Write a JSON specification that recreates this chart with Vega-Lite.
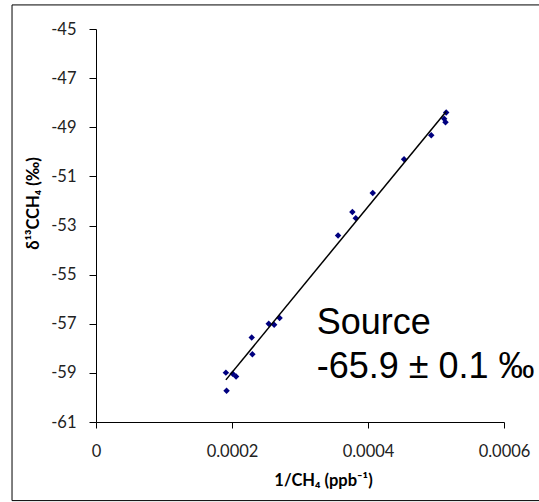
{
  "$schema": "https://vega.github.io/schema/vega-lite/v6.json",
  "width": 408,
  "height": 393,
  "autosize": "none",
  "padding": {"left": 96, "top": 29, "right": 35, "bottom": 80},
  "background": "white",
  "config": {
    "view": {"stroke": null},
    "axis": {
      "grid": false,
      "domainColor": "#000000",
      "tickColor": "#000000",
      "labelFont": "Lato",
      "labelFontSize": 16.5,
      "labelColor": "#222222",
      "titleFont": "Lato",
      "titleFontSize": 16.5,
      "titleFontWeight": "bold",
      "titleColor": "#000000"
    }
  },
  "layer": [
    {
      "data": {"values": [{"a": 1}]},
      "mark": {"type": "rect", "fill": null, "stroke": "#000000", "strokeWidth": 1, "clip": false},
      "encoding": {
        "x": {"datum": -0.0001235, "type": "quantitative", "scale": {"domain": [0, 0.0006]}},
        "x2": {"datum": 0.00068},
        "y": {"datum": -44.02, "type": "quantitative", "scale": {"domain": [-61, -45]}},
        "y2": {"datum": -64.2}
      }
    },
    {
      "data": {
        "values": [
          {"inv_ch4": 0.000192, "d13c": -59.73},
          {"inv_ch4": 0.000191, "d13c": -58.99},
          {"inv_ch4": 0.000201, "d13c": -59.04},
          {"inv_ch4": 0.000206, "d13c": -59.15},
          {"inv_ch4": 0.00023, "d13c": -58.24},
          {"inv_ch4": 0.000229, "d13c": -57.56},
          {"inv_ch4": 0.000254, "d13c": -57.0},
          {"inv_ch4": 0.000262, "d13c": -57.04},
          {"inv_ch4": 0.00027, "d13c": -56.77},
          {"inv_ch4": 0.000356, "d13c": -53.41},
          {"inv_ch4": 0.000377, "d13c": -52.45},
          {"inv_ch4": 0.000382, "d13c": -52.7},
          {"inv_ch4": 0.000407, "d13c": -51.68},
          {"inv_ch4": 0.000453, "d13c": -50.3},
          {"inv_ch4": 0.000493, "d13c": -49.33},
          {"inv_ch4": 0.000515, "d13c": -48.4},
          {"inv_ch4": 0.000512, "d13c": -48.65},
          {"inv_ch4": 0.000514, "d13c": -48.8}
        ]
      },
      "layer": [
        {
          "mark": {"type": "point", "shape": "diamond", "filled": true, "color": "#000080", "size": 42, "opacity": 1},
          "encoding": {
            "x": {
              "field": "inv_ch4",
              "type": "quantitative",
              "scale": {"domain": [0, 0.0006], "nice": false, "zero": false},
              "axis": {
                "values": [0, 0.0002, 0.0004, 0.0006],
                "labelExpr": "toString(datum.value)",
                "tickSize": 6,
                "labelPadding": 15,
                "labelFlush": false,
                "title": "1/CH₄ (ppb⁻¹)",
                "titleX": 227,
                "titlePadding": 13
              }
            },
            "y": {
              "field": "d13c",
              "type": "quantitative",
              "scale": {"domain": [-61, -45], "nice": false, "zero": false},
              "axis": {
                "values": [-61, -59, -57, -55, -53, -51, -49, -47, -45],
                "labelExpr": "toString(datum.value)",
                "tickSize": 7,
                "labelPadding": 13,
                "labelFlush": false,
                "title": "δ¹³CCH₄ (‰)",
                "titleY": 174,
                "titlePadding": 9
              }
            }
          }
        },
        {
          "transform": [{"regression": "d13c", "on": "inv_ch4"}],
          "mark": {"type": "line", "color": "#000000", "strokeWidth": 1.5},
          "encoding": {
            "x": {"field": "inv_ch4", "type": "quantitative"},
            "y": {"field": "d13c", "type": "quantitative"}
          }
        }
      ]
    },
    {
      "data": {"values": [{"inv_ch4": 0.0003246, "d13c": -57.42, "label": "Source\n-65.9 ± 0.1 ‰"}]},
      "mark": {
        "type": "text",
        "font": "Liberation Sans",
        "fontSize": 36,
        "lineHeight": 44,
        "lineBreak": "\n",
        "align": "left",
        "baseline": "alphabetic",
        "color": "#000000",
        "clip": false
      },
      "encoding": {
        "x": {"field": "inv_ch4", "type": "quantitative"},
        "y": {"field": "d13c", "type": "quantitative"},
        "text": {"field": "label"}
      }
    }
  ]
}
